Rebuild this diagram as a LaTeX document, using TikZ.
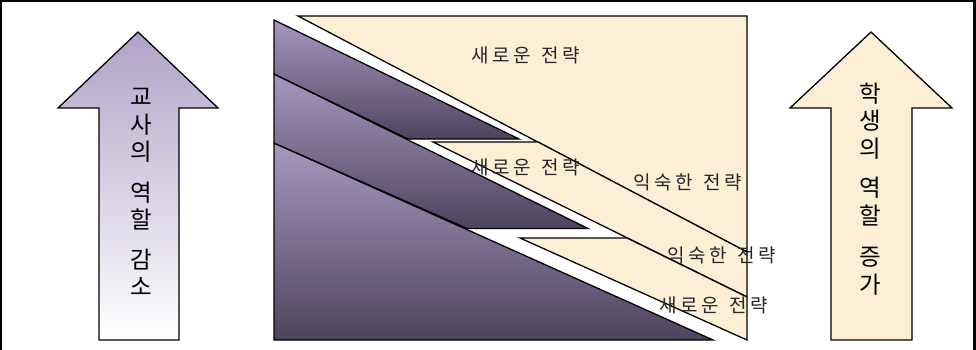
\documentclass[tikz,border=0pt]{standalone}
\usepackage{fontspec}
\newfontfamily\kr{Noto Sans CJK KR}
\definecolor{plight}{HTML}{A898C0}
\definecolor{pdark}{HTML}{4E445E}
\definecolor{cream}{HTML}{FCEFD6}
\definecolor{alight}{HTML}{B0A2C8}
\newcommand{\ks}{\kern3.5pt}
\newcommand{\ws}{\hspace{11pt}}
\tikzset{
  band/.style={draw=black, line width=1.3pt, line join=miter, top color=plight, bottom color=pdark},
  cband/.style={draw=black, line width=1.3pt, line join=miter, fill=cream},
  bigarrow/.style={draw=black, line width=1.3pt, line join=miter},
  vlabel/.style={align=center, font=\kr\fontsize{23.5}{27.5}\selectfont, inner sep=0pt},
  slabel/.style={font=\kr\fontsize{19}{22}\selectfont, text=black!85, inner sep=0pt}
}
\begin{document}
\begin{tikzpicture}[x=1pt,y=-1pt]
\useasboundingbox (0,0) rectangle (976,350);
% frame
\draw[line width=2.5pt] (1.2,352) -- (1.2,1.2) -- (974.5,1.2) -- (974.5,352);
% left arrow
\path[bigarrow, top color=alight, bottom color=white]
  (138,32) -- (218,108) -- (179,108) -- (179,340) -- (99,340) -- (99,108) -- (58,108) -- cycle;
% right arrow
\path[bigarrow, fill=cream]
  (871,32) -- (952,108) -- (912,108) -- (912,340) -- (831,340) -- (831,108) -- (790,108) -- cycle;
% purple bands
\path[band] (274,143) -- (713,340) -- (274,340) -- cycle;
\path[band] (274,74) -- (588,228.5) -- (467,228.5) -- (274,143) -- cycle;
\path[band] (274,20) -- (519,139) -- (408,139) -- (274,74) -- cycle;
% cream bands
\path[cband] (298,16) -- (747,16) -- (747,252) -- cycle;
\path[cband] (433,142) -- (538,142) -- (747,252) -- (747,297) -- cycle;
\path[cband] (520,238) -- (627,238) -- (747,297) -- (747,340) -- cycle;
% labels
\node[slabel] (s1) at (526,55) {새\ks 로\ks 운\ws 전\ks 략};
\node[slabel] (s2) at (526,167) {새\ks 로\ks 운\ws 전\ks 략};
\node[slabel] (f1) at (688,182) {익\ks 숙\ks 한\ws 전\ks 략};
\node[slabel] (f2) at (722,255) {익\ks 숙\ks 한\ws 전\ks 략};
\node[slabel] (s3) at (714,305) {새\ks 로\ks 운\ws 전\ks 략};
\node[vlabel] (tl) at (141,192) {교\\사\\의\\[13pt]역\\할\\[12pt]감\\소};
\node[vlabel] (sl) at (870,189) {학\\생\\의\\[12pt]역\\할\\[14pt]증\\가};
\end{tikzpicture}
\end{document}
